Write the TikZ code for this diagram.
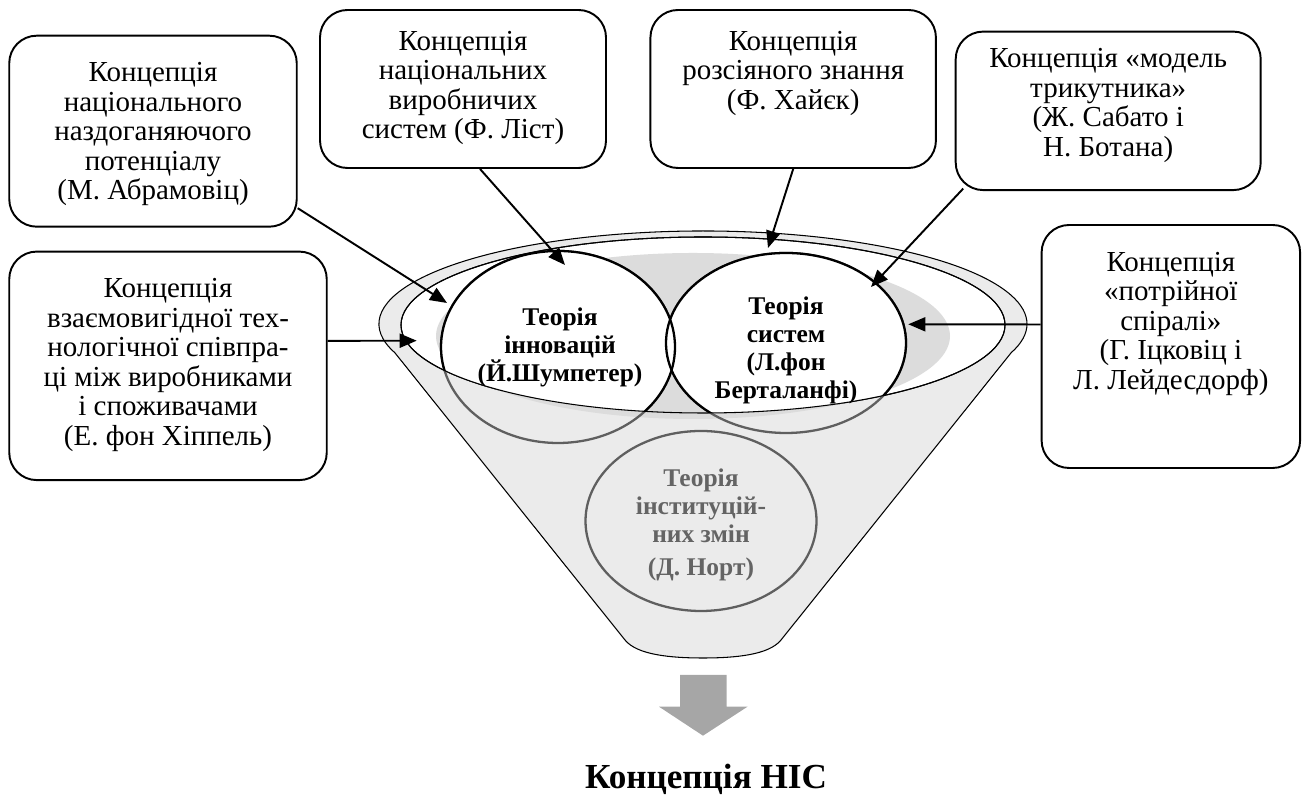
\documentclass[tikz,border=0pt]{standalone}
\usepackage{fontspec}
\setmainfont{Liberation Serif}
\usetikzlibrary{positioning,shapes.geometric,arrows.meta}

\definecolor{funnelgrey}{RGB}{235,235,235}
\definecolor{coregrey}{RGB}{220,220,220}
\definecolor{rimgrey}{RGB}{95,95,95}
\definecolor{northtext}{RGB}{100,100,100}
\definecolor{arrowgrey}{RGB}{166,166,166}

\newcommand{\conceptfont}{\fontsize{16.5}{16.8}\selectfont}
\newcommand{\theoryfont}{\fontsize{14.5}{15.9}\selectfont\bfseries}
\newcommand{\conbox}[3]{\parbox[c][#2][t]{#1}{\vspace*{0.24cm}\centering #3}}

\begin{document}
\begin{tikzpicture}[
  concept/.style={rectangle, draw, line width=1.1pt, rounded corners=0.55cm, inner xsep=0.1cm, inner ysep=0.3cm, font=\conceptfont},
  theory/.style={ellipse, inner sep=0pt, align=center, font=\theoryfont},
  feed/.style={-{Triangle[length=0.34cm,width=0.28cm]}, line width=1.1pt},
  rim/.style={line width=0.6pt},
  ring/.style={line width=1.3pt}
]
\useasboundingbox (0,0) rectangle (26.18,16);

\filldraw[fill=funnelgrey, rim] (7.897,8.945) arc[start angle=198, end angle=-18, x radius=6.48, y radius=1.86]
  -- (15.62,3.2) .. controls (15.38,2.9) and (14.7,2.84) .. (14.06,2.84)
  .. controls (13.42,2.84) and (12.74,2.9) .. (12.5,3.2) -- cycle;
\filldraw[fill=white, rim] (14.06,9.5) ellipse [x radius=6.04, y radius=1.76];
\fill[coregrey] (13.86,9.28) ellipse [x radius=5.14, y radius=1.66];

\coordinate (schumpc) at (11.16,9.06);
\coordinate (bertac) at (15.72,9.14);
\draw[ring, rimgrey] (14.02,5.58) ellipse [x radius=2.31, y radius=1.8];
\draw[ring, rimgrey] (schumpc) ellipse [x radius=2.34, y radius=1.92];
\draw[ring, rimgrey] (bertac) ellipse [x radius=2.4, y radius=1.8];
\begin{scope}
  \clip (14.06,9.5) ellipse [x radius=6.04, y radius=1.76];
  \fill[white] (schumpc) ellipse [x radius=2.34, y radius=1.92] (bertac) ellipse [x radius=2.4, y radius=1.8];
  \draw[ring] (schumpc) ellipse [x radius=2.34, y radius=1.92];
  \draw[ring] (bertac) ellipse [x radius=2.4, y radius=1.8];
\end{scope}
\draw[rim] (14.06,9.5) ellipse [x radius=6.04, y radius=1.76];

\node[theory] (schump) at (11.2,9.06) {Теорія\\інновацій\\(Й.Шумпетер)};
\node[theory] (berta) at (15.72,9.0) {Теорія\\систем\\(Л.фон\\Берталанфі)};
\node[theory, text=northtext] (north) at (14.02,5.5) {Теорія\\інституцій-\\них змін\\[3pt](Д. Норт)};

\node[concept] (abram) at (3.06,13.376) {\conbox{5.55cm}{3.22cm}{Концепція\\національного\\наздоганяючого\\потенціалу\\(М. Абрамовіц)}};
\node[concept, inner ysep=0.18cm] (list) at (9.26,14.22) {\conbox{5.52cm}{2.8cm}{Концепція\\національних\\виробничих\\систем (Ф. Ліст)}};
\node[concept, inner ysep=0.18cm, right=0.85cm of list] (hayek) {\conbox{5.51cm}{2.8cm}{Концепція\\розсіяного знання\\(Ф. Хайєк)}};
\node[concept, inner ysep=0.1cm] (sabato) at (22.164,13.783) {\conbox{5.9cm}{2.97cm}{Концепція «модель\\трикутника»\\(Ж. Сабато і\\Н. Ботана)}};
\node[concept] (hippel) at (3.36,8.683) {\conbox{6.15cm}{3.97cm}{Концепція\\взаємовигідної тех-\\нологічної співпра-\\ці між виробниками\\і споживачами\\(Е. фон Хіппель)}};
\node[concept] (triple) at (23.417,9.07) {\conbox{4.97cm}{4.26cm}{Концепція\\«потрійної\\спіралі»\\(Г. Іцковіц і\\Л. Лейдесдорф)}};

\coordinate (inAbram) at (8.94,9.94);
\coordinate (inList) at (11.3,10.7);
\coordinate (inHayek) at (15.36,11.04);
\coordinate (inSabato) at (17.42,10.26);
\coordinate (inHippel) at (8.334,9.186);
\coordinate (inTriple) at (18.166,9.514);

\draw[feed] ([yshift=-1.54cm]abram.east) -- (inAbram);
\draw[feed] ([xshift=0.34cm]list.south) -- (inList);
\draw[feed] (hayek.south) -- (inHayek);
\draw[feed] ([xshift=0.17cm,yshift=0.05cm]sabato.south west) -- (inSabato);
\draw[feed] ([yshift=0.5cm]hippel.east) -- (inHippel);
\draw[feed] ([yshift=0.44cm]triple.west) -- (inTriple);

\fill[arrowgrey] (13.6,2.5) -- (14.53,2.5) -- (14.53,1.866) -- (14.95,1.866) -- (14.06,1.286)
  -- (13.18,1.866) -- (13.6,1.866) -- cycle;
\node[font=\fontsize{20}{22}\selectfont\bfseries, anchor=base] (nis) at (14.12,0.22) {Концепція НІС};
\end{tikzpicture}
\end{document}
